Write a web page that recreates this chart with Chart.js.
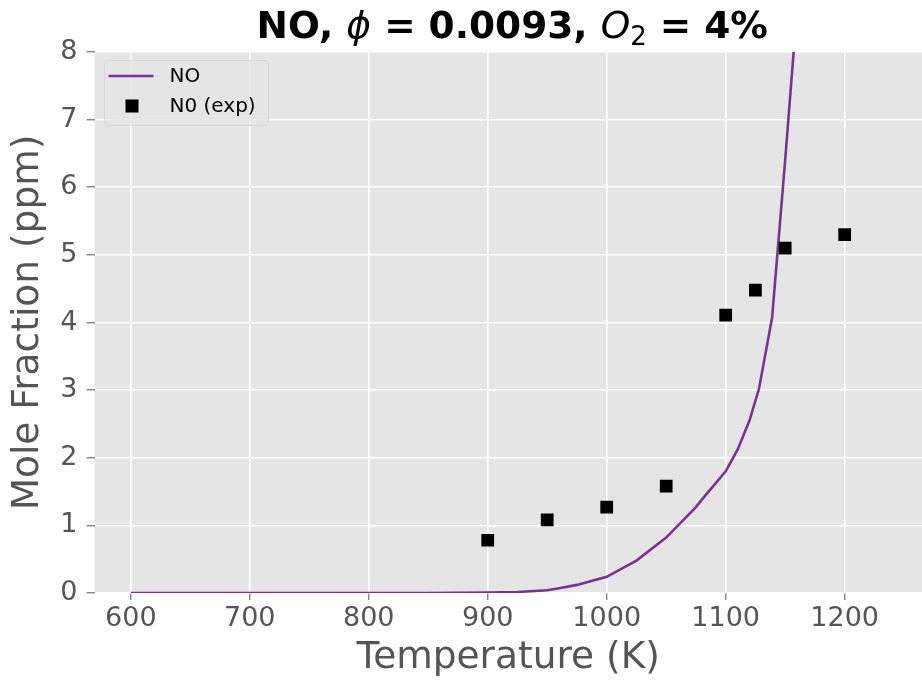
<!DOCTYPE html>
<html>
<head>
<meta charset="utf-8">
<script src="https://cdn.jsdelivr.net/npm/chart.js@4/dist/chart.umd.min.js"></script>
<style>
  html, body { margin: 0; padding: 0; background: #fff; }
  #plot { display: block; }
</style>
</head>
<body>
<canvas id="plot" width="922" height="681"></canvas>
<script>
// model curve (NO)
const temps = [600, 700, 800, 850, 900, 925, 950, 960, 975, 1000, 1025, 1050, 1060, 1075, 1080, 1100, 1110, 1120, 1128, 1139, 1150, 1160];
const noModel = [0, 0, 0, 0, 0.005, 0.015, 0.04, 0.07, 0.12, 0.24, 0.48, 0.82, 1.0, 1.27, 1.38, 1.80, 2.12, 2.55, 3.02, 4.07, 6.4, 8.65];

// experiment points
const expTemps = [900, 950, 1000, 1050, 1100, 1125, 1150, 1200];
const noExp = [0.78, 1.08, 1.27, 1.58, 4.11, 4.48, 5.10, 5.30];

const xTicks = [600, 700, 800, 900, 1000, 1100, 1200];
const yTicks = [0, 1, 2, 3, 4, 5, 6, 7, 8];

const purple = "#7b3294";
const txtGray = "#555555";
const font = "DejaVu Sans";

// title with math parts in italic
const titlePlugin = {
  id: "mathTitle",
  afterDraw(chart) {
    const ctx = chart.ctx;
    const a = chart.chartArea;
    const bold = "bold 37.5px '" + font + "'";
    const ital = "italic 37.5px '" + font + "'";
    const parts = [
      { t: "NO, ", f: bold, dy: 0 },
      { t: "\u03D5", f: ital, dy: 0 },
      { t: " = 0.0093, ", f: bold, dy: 0 },
      { t: "O", f: ital, dy: 0 },
      { t: "2", f: "26px '" + font + "'", dy: 7 },
      { t: " = 4%", f: bold, dy: 0 }
    ];
    ctx.save();
    let w = 0;
    parts.forEach(p => { ctx.font = p.f; p.w = ctx.measureText(p.t).width; w += p.w; });
    let x = (a.left + a.right) / 2 - w / 2 + 4;
    const y = 38;
    ctx.fillStyle = "#000";
    ctx.textBaseline = "alphabetic";
    parts.forEach(p => {
      ctx.font = p.f;
      ctx.fillText(p.t, x, y + p.dy);
      x += p.w;
    });
    ctx.restore();
  }
};

// legend box inside the axes, top left
const legendPlugin = {
  id: "boxLegend",
  afterDatasetsDraw(chart) {
    const ctx = chart.ctx;
    const a = chart.chartArea;
    const x0 = a.left + 10, y0 = a.top + 8.5, bw = 164, bh = 65;
    ctx.save();
    ctx.beginPath();
    ctx.roundRect(x0, y0, bw, bh, 5);
    ctx.fillStyle = "rgba(229,229,229,0.8)";
    ctx.fill();
    ctx.strokeStyle = "#d6d6d6";
    ctx.lineWidth = 1;
    ctx.stroke();

    const ds = chart.data.datasets;
    ctx.font = "20px '" + font + "'";
    ctx.textBaseline = "middle";
    ctx.fillStyle = "#000";
    // line entry
    ctx.beginPath();
    ctx.moveTo(x0 + 4, y0 + 15.5);
    ctx.lineTo(x0 + 49, y0 + 15.5);
    ctx.strokeStyle = ds[0].borderColor;
    ctx.lineWidth = 2.5;
    ctx.stroke();
    ctx.fillText(ds[0].label, x0 + 65, y0 + 16);
    // marker entry
    ctx.fillStyle = ds[1].backgroundColor;
    ctx.fillRect(x0 + 21, y0 + 39, 13, 13);
    ctx.fillStyle = "#000";
    ctx.fillText(ds[1].label, x0 + 65, y0 + 46);
    ctx.restore();
  }
};

const bgPlugin = {
  id: "axesBg",
  beforeDraw(chart) {
    const ctx = chart.ctx;
    const a = chart.chartArea;
    ctx.save();
    ctx.fillStyle = "#ffffff";
    ctx.fillRect(0, 0, chart.width, chart.height);
    ctx.fillStyle = "#e5e5e5";
    ctx.fillRect(a.left, a.top, a.right - a.left, a.bottom - a.top);
    ctx.restore();
  }
};

const plain = v => String(v);

new Chart(document.getElementById("plot"), {
  type: "scatter",
  data: {
    datasets: [
      {
        label: "NO",
        type: "line",
        data: temps.map((t, i) => ({ x: t, y: noModel[i] })),
        borderColor: purple,
        backgroundColor: purple,
        borderWidth: 2.6,
        pointRadius: 0,
        tension: 0,
        order: 2
      },
      {
        label: "N0 (exp)",
        data: expTemps.map((t, i) => ({ x: t, y: noExp[i] })),
        pointStyle: "rect",
        pointRadius: 9,
        backgroundColor: "#000000",
        borderColor: "#000000",
        borderWidth: 0,
        order: 1
      }
    ]
  },
  options: {
    responsive: false,
    animation: false,
    layout: { autoPadding: false, padding: { top: 52, right: 0, bottom: 0, left: 0 } },
    plugins: {
      legend: { display: false },
      tooltip: { enabled: false },
      title: { display: false }
    },
    scales: {
      x: {
        type: "linear",
        min: 569.5,
        max: 1265,
        afterBuildTicks: s => { s.ticks = xTicks.map(v => ({ value: v })); },
        afterFit: s => { s.height = 88; s.paddingLeft = 0; s.paddingRight = 0; },
        grid: { color: "#ffffff", lineWidth: 1.6, tickColor: txtGray, tickLength: 7, tickWidth: 1 },
        border: { display: false },
        ticks: { color: txtGray, font: { family: font, size: 27 }, padding: 3, maxRotation: 0, callback: plain },
        title: { display: true, text: "Temperature (K)", color: txtGray, font: { family: font, size: 37.5 }, padding: { top: 0, bottom: 0 } }
      },
      y: {
        type: "linear",
        min: 0,
        max: 8,
        afterBuildTicks: s => { s.ticks = yTicks.map(v => ({ value: v })); },
        afterFit: s => { s.width = 94.5; s.paddingTop = 0; s.paddingBottom = 0; },
        grid: { color: "#ffffff", lineWidth: 1.6, tickColor: txtGray, tickLength: 8, tickWidth: 1 },
        border: { display: false },
        ticks: { color: txtGray, font: { family: font, size: 27 }, padding: 9, callback: plain },
        title: { display: true, text: "Mole Fraction (ppm)", color: txtGray, font: { family: font, size: 37.5 }, padding: { top: 6, bottom: 0 } }
      }
    }
  },
  plugins: [bgPlugin, legendPlugin, titlePlugin]
});
</script>
</body>
</html>
